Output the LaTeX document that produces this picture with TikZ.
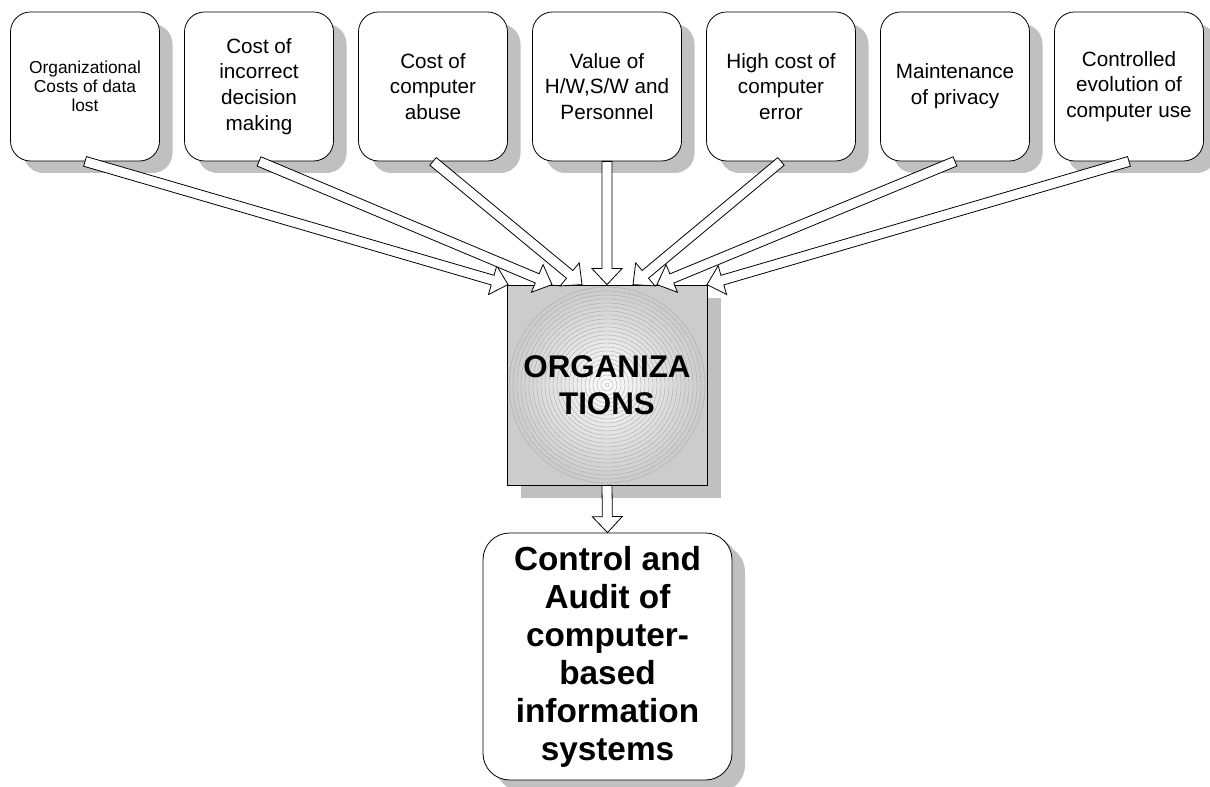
\documentclass[tikz,border=0pt]{standalone}
\usepackage{fontspec}
\setmainfont{Liberation Sans}
\usetikzlibrary{calc,shadows}

\definecolor{shadowgray}{RGB}{192,192,192}
\definecolor{squaregray}{RGB}{204,204,204}
\definecolor{ringgray}{RGB}{165,165,165}

\tikzset{
  cause/.style={draw, fill=white, rounded corners=15pt, align=center,
    minimum width=111.75pt, minimum height=111.75pt, line width=0.6pt,
    font=\fontsize{15.5}{19.3}\selectfont,
    drop shadow={shadow xshift=9.75pt, shadow yshift=-9pt, fill=shadowgray, opacity=1}},
  blockarrow/.style={draw, fill=white, line width=0.6pt, line join=miter}
}

% hollow block arrow from #1 to the tip #2
\newcommand\fatarrow[2]{%
  \path[blockarrow] let \p1=($(#2)-(#1)$), \n1={atan2(\y1,\x1)},
      \n2={veclen(\x1,\y1)-12} in
    ($(#1)+(\n1+90:3.75pt)$) -- ++(\n1:\n2) -- ++(\n1+90:7.5pt) -- (#2)
    -- ($(#2)+(\n1+180:12pt)+(\n1-90:11.25pt)$) -- ++(\n1+90:7.5pt)
    -- ++(\n1+180:\n2) -- cycle;}

\begin{document}
\begin{tikzpicture}[x=0.75pt, y=-0.75pt]
            \useasboundingbox (0,0) rectangle (1210,787);
            %\draw[lightgray] (0,0) grid[step=100] (1210,787);
            \node[cause, font=\fontsize{13}{14.3}\selectfont] (lost) at (85,86.5) {Organizational\\Costs of data\\lost};
            \node[cause] (decision) at (259,86.5) {Cost of\\incorrect\\decision\\making};
            \node[cause] (abuse) at (433,86.5) {Cost of\\computer\\abuse};
            \node[cause] (value) at (607,86.5) {Value of\\H/W,S/W and\\Personnel};
            \node[cause] (error) at (781,86.5) {High cost of\\computer\\error};
            \node[cause] (privacy) at (955,86.5) {Maintenance\\of privacy};
            \node[cause] (evolution) at (1129,86.5) {Controlled\\evolution of\\computer use};

            % the organisation square
            \node[draw, fill=squaregray, minimum size=150pt, line width=0.6pt,
              drop shadow={shadow xshift=10.5pt, shadow yshift=-9.75pt, fill=shadowgray, opacity=1}]
              (org) at (607,385) {};
            \foreach \r in {0,...,24}{
              \pgfmathtruncatemacro\pct{4*\r}
              \draw[ringgray, line width=0.25pt, fill=white!\pct!squaregray]
                (org.center) circle[radius={(98-4*\r)*0.75pt}];
            }
            \node[font=\fontsize{23.5}{27.5}\selectfont\bfseries, align=center] (orgtext) at (org.center) {ORGANIZA\\TIONS};

            \node[cause, rounded corners=20pt, minimum width=186.75pt, minimum height=185.25pt,
              font=\fontsize{25}{28.5}\selectfont\bfseries,
              drop shadow={shadow xshift=4pt, shadow yshift=-3pt, fill=shadowgray, opacity=1}]
              (audit) at (607.5,656.5) {Control and\\Audit of\\computer-\\based\\information\\systems};

            % tips on the top side of the square
            \coordinate (t1) at ($(org.north)+(-99,0)$);
            \coordinate (t2) at ($(org.north)+(-55,0)$);
            \coordinate (t3) at ($(org.north)+(-25,0)$);
            \coordinate (t4) at (org.north);
            \coordinate (t5) at ($(org.north)+(26,0)$);
            \coordinate (t6) at ($(org.north)+(50,0)$);
            \coordinate (t7) at ($(org.north)+(100,0)$);

            \fatarrow{lost.south}{t1}
            \fatarrow{decision.south}{t2}
            \fatarrow{abuse.south}{t3}
            \fatarrow{value.south}{t4}
            \fatarrow{error.south}{t5}
            \fatarrow{privacy.south}{t6}
            \fatarrow{evolution.south}{t7}
            \fatarrow{org.south}{audit.north}
        \end{tikzpicture}
\end{document}
